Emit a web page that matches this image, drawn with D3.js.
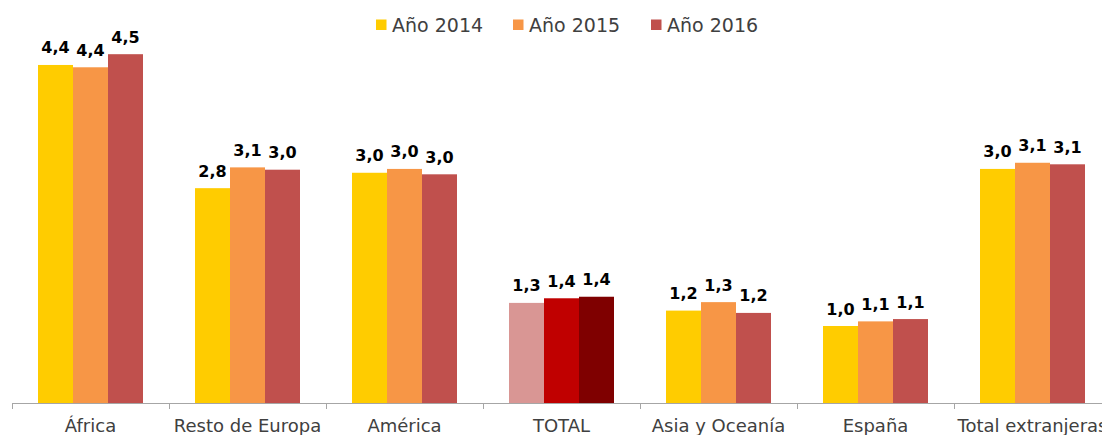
<!DOCTYPE html>
<html>
<head>
<meta charset="utf-8">
<script src="https://cdn.jsdelivr.net/npm/d3@7"></script>
<style>
  body { margin: 0; background: #fff; }
  svg { display: block; }
</style>
</head>
<body>
<div id="chart"></div>
<script>
"use strict";

// === Data ===
const categories = ["África", "Resto de Europa", "América", "TOTAL", "Asia y Oceanía", "España", "Total extranjeras"];
const seriesNames = ["Año 2014", "Año 2015", "Año 2016"];
const values2014 = [4.39, 2.79, 2.99, 1.30, 1.20, 1.00, 3.04];
const values2015 = [4.36, 3.06, 3.04, 1.36, 1.31, 1.06, 3.12];
const values2016 = [4.53, 3.03, 2.97, 1.38, 1.17, 1.09, 3.10];

const seriesColors = ["#ffcc00", "#f79646", "#c0504d"];
const totalColors = ["#d99694", "#c00000", "#7f0000"]; // TOTAL group uses its own shades

// === SVG setup ===
const width = 1102, height = 435;
const svg = d3.select("#chart")
  .append("svg")
  .attr("width", width)
  .attr("height", height);

const series = [values2014, values2015, values2016];
const rows = categories.map((c, i) => ({
  cat: c,
  vals: series.map((s, j) => ({ key: j, value: s[i] }))
}));

// === Scales ===
const x0 = d3.scaleBand()
  .domain(categories)
  .range([12, 12 + 157 * 7])
  .padding(0);

const x1 = d3.scaleBand()
  .domain([0, 1, 2])
  .range([26, x0.bandwidth() - 26])
  .padding(0);

const y = d3.scaleLinear()
  .domain([0, 5])
  .range([403, 18]);

const fmt = v => d3.format(".1f")(v).replace(".", ",");

// === Bars ===
const groups = svg.selectAll("g.grp")
  .data(rows)
  .enter()
  .append("g")
  .attr("class", "grp")
  .attr("transform", d => `translate(${x0(d.cat)},0)`);

groups.selectAll("rect")
  .data(d => d.vals.map(v => ({ ...v, cat: d.cat })))
  .enter()
  .append("rect")
  .attr("x", d => x1(d.key))
  .attr("y", d => y(d.value))
  .attr("width", x1.bandwidth())
  .attr("height", d => y(0) - y(d.value))
  .attr("fill", d => d.cat === "TOTAL" ? totalColors[d.key] : seriesColors[d.key]);

// value labels
groups.selectAll("text.val")
  .data(d => d.vals)
  .enter()
  .append("text")
  .attr("class", "val")
  .attr("x", d => x1(d.key) + x1.bandwidth() / 2)
  .attr("y", d => y(d.value) - 11.5)
  .attr("text-anchor", "middle")
  .attr("font-family", "DejaVu Sans")
  .attr("font-weight", "bold")
  .attr("font-size", "16px")
  .attr("fill", "#000")
  .text(d => fmt(d.value));

// === Axis ===
svg.append("line")
  .attr("x1", x0.range()[0])
  .attr("x2", x0.range()[1])
  .attr("y1", y(0) + 0.5)
  .attr("y2", y(0) + 0.5)
  .attr("stroke", "#a6a6a6")
  .attr("stroke-width", 1);

const tickEdges = categories.map(c => x0(c)).concat([x0.range()[1]]);
svg.selectAll("line.tick")
  .data(tickEdges)
  .enter()
  .append("line")
  .attr("class", "tick")
  .attr("x1", d => Math.round(d) + 0.5)
  .attr("x2", d => Math.round(d) + 0.5)
  .attr("y1", y(0))
  .attr("y2", y(0) + 6)
  .attr("stroke", "#a6a6a6");

svg.selectAll("text.cat")
  .data(categories)
  .enter()
  .append("text")
  .attr("class", "cat")
  .attr("x", d => x0(d) + x0.bandwidth() / 2)
  .attr("y", 432)
  .attr("text-anchor", "middle")
  .attr("font-family", "DejaVu Sans")
  .attr("font-size", "18px")
  .attr("fill", "#404040")
  .text(d => d);

// === Legend ===
const legendX = [376, 513, 651];
const legend = svg.selectAll("g.leg")
  .data(seriesNames)
  .enter()
  .append("g")
  .attr("class", "leg")
  .attr("transform", (d, i) => `translate(${legendX[i]},0)`);

legend.append("rect")
  .attr("x", 0)
  .attr("y", 19.5)
  .attr("width", 10.5)
  .attr("height", 10.5)
  .attr("fill", (d, i) => seriesColors[i]);

legend.append("text")
  .attr("x", 16)
  .attr("y", 32)
  .attr("font-family", "DejaVu Sans")
  .attr("font-size", "19px")
  .attr("fill", "#404040")
  .text(d => d);
</script>
</body>
</html>
